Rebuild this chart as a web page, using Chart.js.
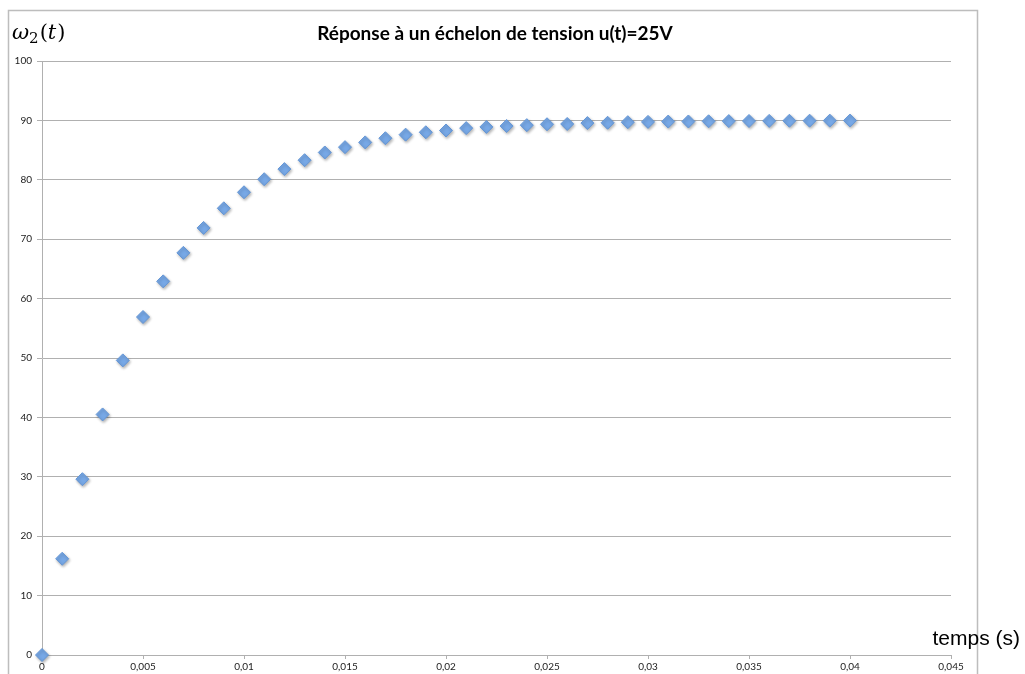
<!DOCTYPE html>
<html>
<head>
<meta charset="utf-8">
<script src="https://cdn.jsdelivr.net/npm/chart.js@4/dist/chart.umd.min.js"></script>
<style>
  html, body { margin: 0; padding: 0; background: #fff; overflow: hidden; }
  #wrap { position: relative; width: 1025px; height: 674px; }
</style>
</head>
<body>
<div id="wrap"><canvas id="myChart" width="1025" height="674"></canvas></div>
<script>
// Données
const temps = [0, 0.001, 0.002, 0.003, 0.004, 0.005, 0.006, 0.007, 0.008, 0.009,
  0.010, 0.011, 0.012, 0.013, 0.014, 0.015, 0.016, 0.017, 0.018, 0.019,
  0.020, 0.021, 0.022, 0.023, 0.024, 0.025, 0.026, 0.027, 0.028, 0.029,
  0.030, 0.031, 0.032, 0.033, 0.034, 0.035, 0.036, 0.037, 0.038, 0.039, 0.040];
const omega2 = [0, 16.2, 29.6, 40.5, 49.6, 56.9, 62.9, 67.7, 71.9, 75.2,
  77.9, 80.1, 81.8, 83.3, 84.6, 85.5, 86.3, 87.0, 87.6, 88.0,
  88.3, 88.7, 88.9, 89.05, 89.2, 89.35, 89.4, 89.55, 89.6, 89.7,
  89.75, 89.8, 89.82, 89.85, 89.88, 89.9, 89.92, 89.94, 89.95, 89.96, 89.97];
const xTickLabels = ['0', '0,005', '0,01', '0,015', '0,02', '0,025', '0,03', '0,035', '0,04', '0,045'];
const yTickLabels = ['0', '10', '20', '30', '40', '50', '60', '70', '80', '90', '100'];
const titre = 'Réponse à un échelon de tension u(t)=25V';
const axeX = 'temps (s)';

const ctx = document.getElementById('myChart');
const points = temps.map((t, i) => ({ x: t, y: omega2[i] }));

// cadre, titre et libellés d'axes
const decor = {
  id: 'decor',
  beforeDraw(chart) {
    const c = chart.ctx;
    c.save();
    c.strokeStyle = '#bdbdbd';
    c.lineWidth = 1.5;
    c.beginPath();
    c.moveTo(8.5, 674);
    c.lineTo(8.5, 10.5);
    c.lineTo(977.5, 10.5);
    c.lineTo(977.5, 674);
    c.stroke();
    c.restore();
  },
  afterDraw(chart) {
    const c = chart.ctx;
    c.save();
    c.fillStyle = '#000';
    c.textBaseline = 'alphabetic';
    c.textAlign = 'center';
    c.font = 'bold 19px Lato';
    c.fillText(titre, 495, 40);
    // omega_2(t)
    c.textAlign = 'left';
    const base = 39;
    c.font = 'italic 21px "DejaVu Serif"';
    c.fillText('ω', 12, base);
    let x = 12 + c.measureText('ω').width;
    c.font = '15px "DejaVu Serif"';
    c.fillText('2', x, base + 4);
    x += c.measureText('2').width + 1;
    c.font = '21px "DejaVu Serif"';
    c.fillText('(', x, base);
    x += c.measureText('(').width;
    c.font = 'italic 21px "DejaVu Serif"';
    c.fillText('t', x, base);
    x += c.measureText('t').width + 1;
    c.font = '21px "DejaVu Serif"';
    c.fillText(')', x, base);
    // temps (s)
    c.font = '21px "Liberation Sans"';
    c.textAlign = 'right';
    c.fillText(axeX, 1020, 645);
    c.restore();
  }
};

const ombre = {
  id: 'ombre',
  beforeDatasetDraw(chart) {
    const c = chart.ctx;
    c.save();
    c.shadowColor = 'rgba(0,0,0,0.3)';
    c.shadowBlur = 3;
    c.shadowOffsetX = 1;
    c.shadowOffsetY = 1.5;
  },
  afterDatasetDraw(chart) {
    chart.ctx.restore();
  }
};

new Chart(ctx, {
  type: 'scatter',
  data: {
    datasets: [{
      data: points,
      pointStyle: 'rectRot',
      pointRadius: 6.5,
      pointHoverRadius: 6.5,
      backgroundColor: '#77a8e6',
      borderColor: '#6496d6',
      borderWidth: 1,
      clip: false
    }]
  },
  options: {
    responsive: false,
    animation: false,
    layout: { padding: { top: 61, right: 74, left: 0, bottom: 0 } },
    plugins: {
      legend: { display: false },
      title: { display: false },
      tooltip: { enabled: false }
    },
    scales: {
      x: {
        type: 'linear',
        min: 0,
        max: 0.045,
        afterFit: s => { s.height = 19; },
        afterBuildTicks: s => { s.ticks = xTickLabels.map((l, i) => ({ value: i * 0.005 })); },
        ticks: {
          callback: (v, i) => xTickLabels[i],
          font: { family: 'Lato', size: 10 },
          color: '#222',
          padding: 2,
          maxRotation: 0,
          autoSkip: false
        },
        grid: { drawOnChartArea: false, drawTicks: true, tickLength: 4, color: '#b0b0b0' },
        border: { color: '#b0b0b0' }
      },
      y: {
        min: 0,
        max: 100,
        afterFit: s => { s.width = 42; },
        afterBuildTicks: s => { s.ticks = yTickLabels.map((l, i) => ({ value: i * 10 })); },
        ticks: {
          callback: (v, i) => yTickLabels[i],
          font: { family: 'Lato', size: 10 },
          color: '#222',
          padding: 5
        },
        grid: { color: '#b0b0b0', tickLength: 5 },
        border: { color: '#b0b0b0' }
      }
    }
  },
  plugins: [decor, ombre]
});
</script>
</body>
</html>
